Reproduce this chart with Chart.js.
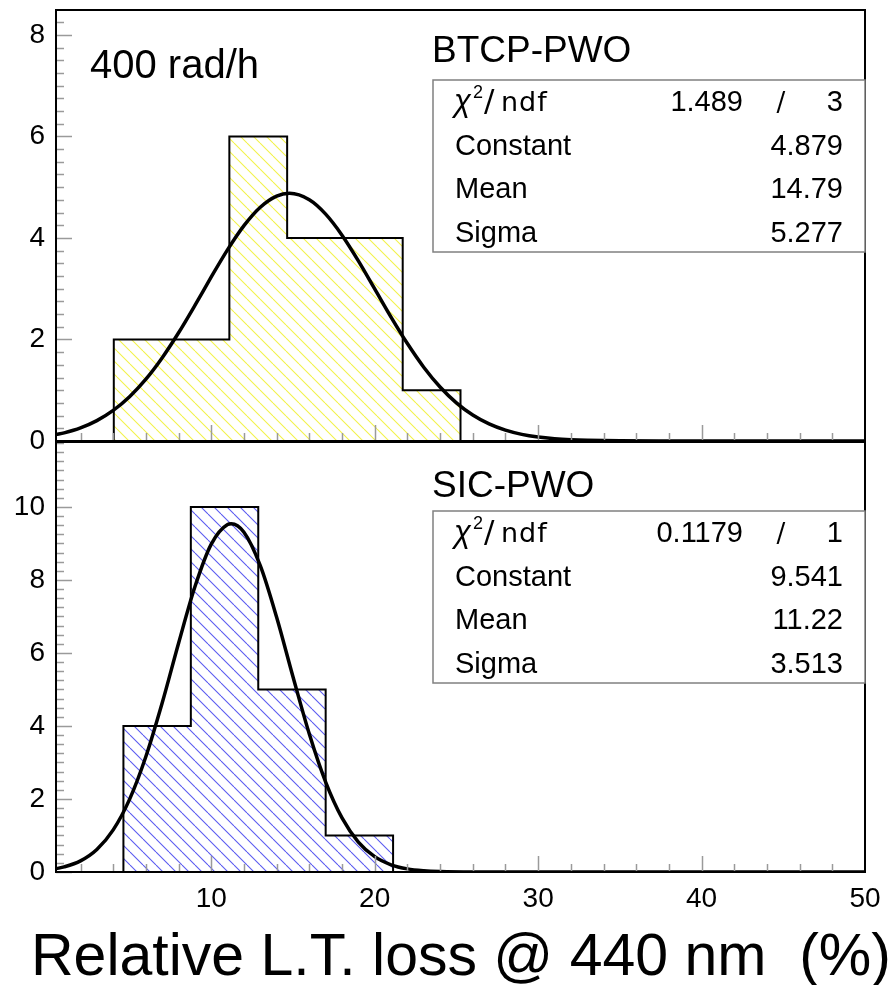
<!DOCTYPE html>
<html>
<head>
<meta charset="utf-8">
<script src="https://cdn.jsdelivr.net/npm/chart.js@4.4.0/dist/chart.umd.min.js"></script>
<style>
  html, body { margin: 0; padding: 0; background: #fff; }
  body { width: 888px; height: 985px; position: relative; overflow: hidden; }
  canvas { position: absolute; left: 0; }
  #cTop { top: 0; }
  #cBot { top: 436px; }
</style>
</head>
<body>
<canvas id="cTop" width="888" height="450"></canvas>
<canvas id="cBot" width="888" height="549"></canvas>
<script>
const X_MIN = 0.5, X_MAX = 50;
const xTickLabels = [10, 20, 30, 40, 50];
const statNames = ['Constant', 'Mean', 'Sigma'];

// BTCP-PWO (top)
const topEdges = [4.036, 7.571, 11.107, 14.643, 18.179, 21.714, 25.25];
const topCounts = [2, 2, 6, 4, 4, 1];
const topFitX = [0.5, 1, 2, 3, 4, 5, 6, 7, 8, 9, 10, 11, 12, 13, 14, 14.79, 16, 17, 18, 19, 20, 21, 22, 23, 24, 25, 26, 27, 28, 29, 30, 31, 32, 33, 35, 38, 42, 50];
const topFitY = [0.125, 0.161, 0.259, 0.402, 0.603, 0.873, 1.218, 1.641, 2.132, 2.672, 3.231, 3.770, 4.243, 4.606, 4.825, 4.879, 4.752, 4.469, 4.055, 3.549, 2.997, 2.441, 1.919, 1.454, 1.064, 0.751, 0.511, 0.336, 0.213, 0.130, 0.077, 0.044, 0.024, 0.013, 0.003, 0, 0, 0];
const topYTicks = [0, 2, 4, 6, 8];
const topChi = ['1.489', '3'];
const topStats = ['4.879', '14.79', '5.277'];

// SIC-PWO (bottom)
const botEdges = [4.625, 8.75, 12.875, 17.0, 21.125];
const botCounts = [4, 10, 5, 1];
const botFitX = [0.5, 1, 2, 3, 4, 5, 6, 7, 8, 9, 10, 11, 11.22, 12, 13, 14, 15, 16, 17, 18, 19, 20, 21, 22, 23, 24, 26, 30, 50];
const botFitY = [0.091, 0.139, 0.305, 0.617, 1.154, 1.990, 3.164, 4.637, 6.268, 7.814, 8.983, 9.522, 9.541, 9.309, 8.391, 6.977, 5.348, 3.781, 2.464, 1.482, 0.821, 0.420, 0.198, 0.086, 0.035, 0.013, 0.001, 0, 0];
const botYTicks = [0, 2, 4, 6, 8, 10];
const botChi = ['0.1179', '1'];
const botStats = ['9.541', '11.22', '3.513'];

Chart.defaults.font.family = "'Liberation Sans', Arial, sans-serif";
Chart.defaults.color = '#000';

function histPoints(edges, counts) {
  const pts = [{ x: edges[0], y: 0 }];
  counts.forEach((c, i) => {
    pts.push({ x: edges[i], y: c });
    pts.push({ x: edges[i + 1], y: c });
  });
  pts.push({ x: edges[edges.length - 1], y: 0 });
  return pts;
}

function hatch(canvas, color) {
  const s = 13;
  const tile = document.createElement('canvas');
  tile.width = s; tile.height = s;
  const g = tile.getContext('2d');
  g.strokeStyle = color;
  g.lineWidth = 1.1;
  for (const k of [-s, 0, s]) {
    g.beginPath();
    g.moveTo(k, 0);
    g.lineTo(k + s, s);
    g.stroke();
  }
  return canvas.getContext('2d').createPattern(tile, 'repeat');
}

const rootFrame = {
  id: 'rootFrame',
  afterDatasetsDraw(chart) {
    const { ctx, chartArea: a, scales: { x, y } } = chart;
    ctx.save();
    ctx.strokeStyle = '#9a9a9a';
    ctx.lineWidth = 1.5;
    ctx.beginPath();
    for (let v = 0; v <= y.max; v += 0.25) {
      const py = Math.round(y.getPixelForValue(v)) + 0.5;
      const len = v % 2 === 0 ? 16 : 8;
      ctx.moveTo(a.left, py);
      ctx.lineTo(a.left + len, py);
    }
    for (let v = 2; v < X_MAX; v += 2) {
      const px = Math.round(x.getPixelForValue(v)) + 0.5;
      const len = v % 10 === 0 ? 16 : 8;
      ctx.moveTo(px, a.bottom);
      ctx.lineTo(px, a.bottom - len);
    }
    ctx.stroke();
    ctx.strokeStyle = '#000';
    ctx.lineWidth = 2;
    ctx.strokeRect(a.left, a.top, a.right - a.left, a.bottom - a.top);
    ctx.restore();
  },
  afterDraw(chart, args, o) {
    const { ctx } = chart;
    const b = o.box;
    ctx.save();
    ctx.fillStyle = '#000';
    ctx.textBaseline = 'alphabetic';

    if (o.label) {
      ctx.font = "40px 'Liberation Sans', Arial";
      ctx.textAlign = 'left';
      ctx.fillText(o.label, 90, 78);
    }
    ctx.font = "37px 'Liberation Sans', Arial";
    ctx.textAlign = 'left';
    ctx.fillText(o.title, 432, o.titleY);

    // stats box
    ctx.fillStyle = '#fff';
    ctx.fillRect(b.x, b.y, b.w, b.h);
    ctx.strokeStyle = '#808080';
    ctx.lineWidth = 1.5;
    ctx.strokeRect(b.x, b.y, b.w, b.h);
    ctx.fillStyle = '#000';

    const rows = [b.y + 31, b.y + 75, b.y + 118, b.y + 162];
    // chi2 / ndf
    ctx.font = "italic 31px 'Liberation Sans', Arial";
    ctx.fillText('\u03C7', 454, rows[0]);
    ctx.font = "18px 'Liberation Sans', Arial";
    ctx.fillText('2', 473, rows[0] - 13);
    ctx.font = "31px 'DejaVu Sans', sans-serif";
    ctx.fillText('/', 484, rows[0]);
    ctx.font = "27px 'DejaVu Sans', sans-serif";
    ctx.letterSpacing = '1px';
    ctx.fillText('ndf', 501, rows[0]);
    ctx.letterSpacing = '0px';

    ctx.font = "29px 'Liberation Sans', Arial";
    ctx.textAlign = 'right';
    ctx.fillText(o.chi[0], 743, rows[0]);
    ctx.fillText(o.chi[1], 843, rows[0]);
    ctx.textAlign = 'center';
    ctx.font = "26px 'DejaVu Sans', sans-serif";
    ctx.fillText('/', 781, rows[0]);

    ctx.font = "29px 'Liberation Sans', Arial";
    statNames.forEach((n, i) => {
      ctx.textAlign = 'left';
      ctx.fillText(n, 455, rows[i + 1]);
      ctx.textAlign = 'right';
      ctx.fillText(o.stats[i], 843, rows[i + 1]);
    });

    if (o.xTitle) {
      ctx.font = "59px 'Liberation Sans', Arial";
      ctx.textAlign = 'left';
      ctx.fillText(o.xTitle, 31, o.xTitleY);
    }
    ctx.restore();
  }
};

function makeChart(id, cfg) {
  const canvas = document.getElementById(id);
  return new Chart(canvas, {
    type: 'line',
    data: {
      datasets: [
        {
          data: cfg.fitX.map((v, i) => ({ x: v, y: cfg.fitY[i] })),
          borderColor: '#000',
          borderWidth: 3.5,
          pointRadius: 0,
          cubicInterpolationMode: 'monotone',
          fill: false
        },
        {
          data: histPoints(cfg.edges, cfg.counts),
          borderColor: '#000',
          borderWidth: 2,
          pointRadius: 0,
          tension: 0,
          borderJoinStyle: 'miter',
          fill: 'origin',
          backgroundColor: hatch(canvas, cfg.hatchColor)
        }
      ]
    },
    options: {
      responsive: false,
      animation: false,
      events: [],
      layout: { autoPadding: false, padding: { left: 0, right: 23, top: cfg.padTop, bottom: 0 } },
      plugins: {
        legend: { display: false },
        tooltip: { enabled: false },
        rootFrame: cfg.deco
      },
      scales: {
        x: {
          type: 'linear',
          min: X_MIN,
          max: X_MAX,
          grid: { display: false, drawTicks: false },
          border: { display: false },
          ticks: { display: cfg.showX, padding: 10, font: { size: 28 } },
          afterBuildTicks: s => { s.ticks = xTickLabels.map(v => ({ value: v })); },
          afterFit: s => {
            s.height = cfg.xHeight;
            s.paddingLeft = 0; s.paddingRight = 0;
            s.paddingTop = 0; s.paddingBottom = 0;
          }
        },
        y: {
          min: 0,
          max: cfg.yMax,
          grid: { display: false, drawTicks: false },
          border: { display: false },
          ticks: { padding: 11, font: { size: 28 } },
          afterBuildTicks: s => { s.ticks = cfg.yTicks.map(v => ({ value: v })); },
          afterFit: s => {
            s.width = 56;
            s.paddingLeft = 0; s.paddingRight = 0;
            s.paddingTop = 0; s.paddingBottom = 0;
          }
        }
      }
    },
    plugins: [rootFrame]
  });
}

makeChart('cTop', {
  fitX: topFitX, fitY: topFitY, edges: topEdges, counts: topCounts,
  hatchColor: '#f2f24a', yMax: 8.49, yTicks: topYTicks,
  padTop: 10, xHeight: 9, showX: false,
  deco: {
    label: '400 rad/h', title: 'BTCP-PWO', titleY: 62,
    box: { x: 433, y: 80, w: 432, h: 172 },
    chi: topChi, stats: topStats
  }
});

makeChart('cBot', {
  fitX: botFitX, fitY: botFitY, edges: botEdges, counts: botCounts,
  hatchColor: '#5a5af0', yMax: 11.78, yTicks: botYTicks,
  padTop: 6, xHeight: 113, showX: true,
  deco: {
    title: 'SIC-PWO', titleY: 61,
    box: { x: 433, y: 75, w: 432, h: 172 },
    chi: botChi, stats: botStats,
    xTitle: 'Relative L.T. loss @ 440 nm  (%)', xTitleY: 539
  }
});
</script>
</body>
</html>
